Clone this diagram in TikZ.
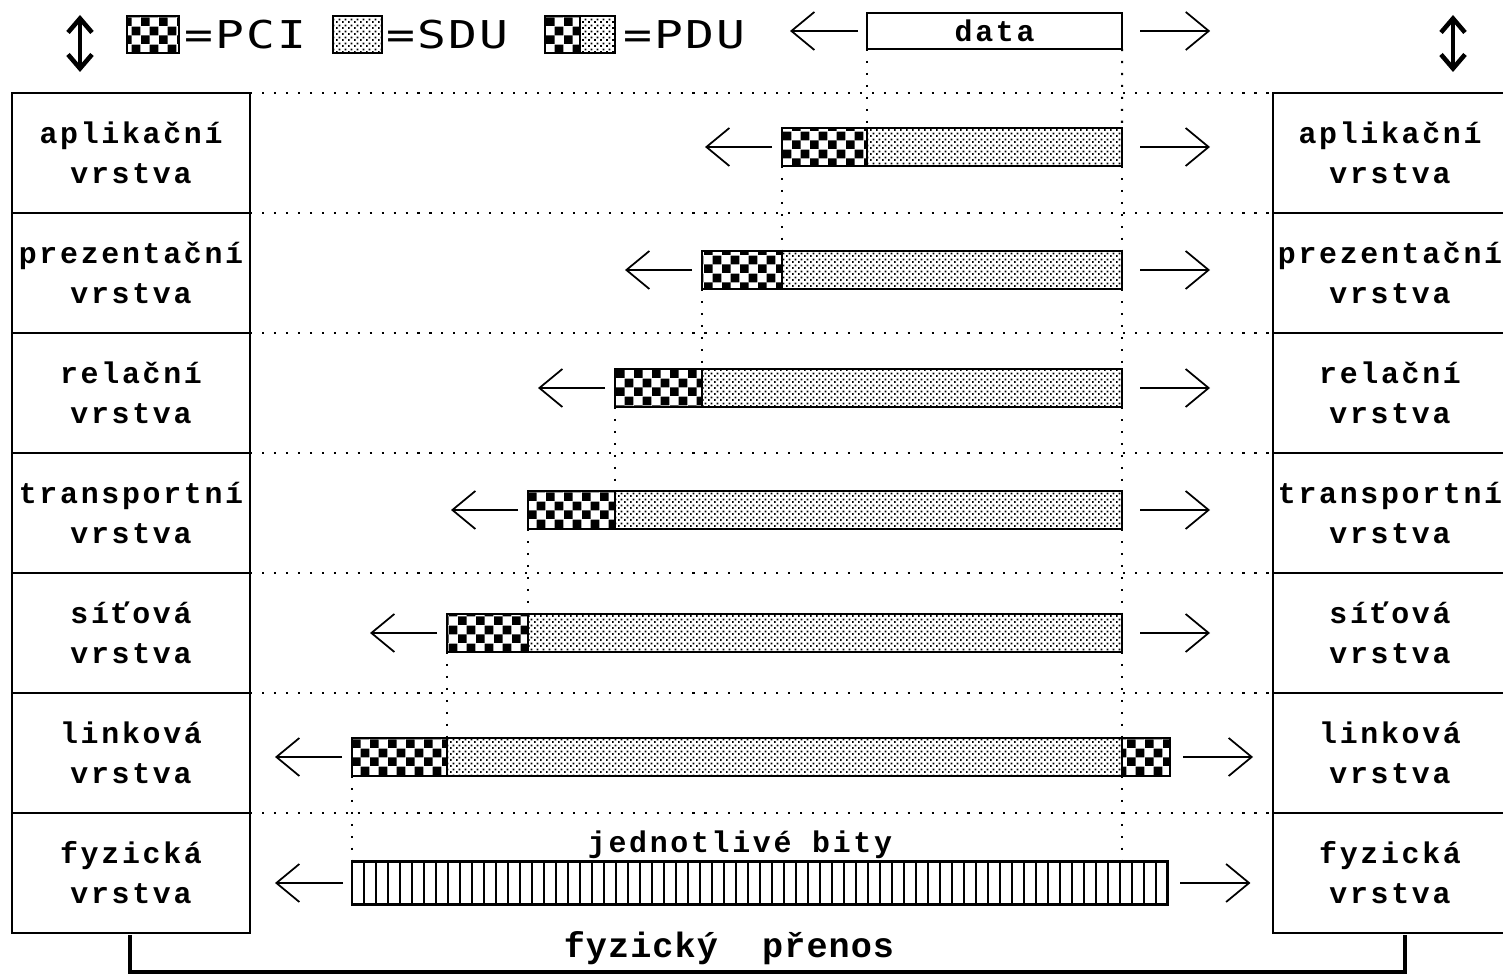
\documentclass[tikz,border=0pt]{standalone}
\usepackage{fontspec}
\usepackage{tikz}
\usetikzlibrary{arrows.meta,patterns.meta,positioning,calc}
\newfontfamily\layfont[LetterSpace=9]{Liberation Mono}
\newfontfamily\bigfont[LetterSpace=3]{Liberation Mono}
\newfontfamily\keyfont[FakeStretch=1.25,LetterSpace=5]{DejaVu Sans Mono}

\tikzdeclarepattern{
  name=pcichk, type=uncolored,
  bottom left={(0cm,0cm)}, top right={(0.176cm,0.176cm)}, tile size={(0.176cm,0.176cm)},
  code={\fill (0cm,0cm) rectangle (0.088cm,0.088cm);
        \fill (0.088cm,0.088cm) rectangle (0.176cm,0.176cm);}
}
\tikzdeclarepattern{
  name=sdudot, type=uncolored,
  bottom left={(0cm,0cm)}, top right={(0.06cm,0.06cm)}, tile size={(0.06cm,0.06cm)},
  code={\fill (0cm,0cm) rectangle (0.02cm,0.02cm);
        \fill (0.03cm,0.03cm) rectangle (0.05cm,0.05cm);}
}

\tikzset{
  layer/.style={draw,line width=0.7pt,minimum height=1.2cm,align=center,inner sep=0pt,
                outer sep=0pt,font=\layfont\bfseries\fontsize{8.5}{11.4}\selectfont},
  bar/.style={draw,line width=0.6pt,minimum height=0.38cm,inner sep=0pt,outer sep=0pt,anchor=west},
  pci/.style={bar,pattern=pcichk},              % záhlaví
  sdu/.style={bar,pattern=sdudot},              % data vyšší vrstvy
  key/.style={draw,line width=0.6pt,minimum height=0.37cm,inner sep=0pt,outer sep=0pt},
  keytxt/.style={font=\keyfont\fontsize{10.9}{13}\selectfont,inner sep=0pt,anchor=west},
  lbl/.style={font=\layfont\bfseries\fontsize{8.5}{11}\selectfont,inner sep=0pt},
  arr/.style={-{Straight Barb[length=2.3mm,width=3.8mm]},line width=0.5pt},
  dbl/.style={{Straight Barb[length=1.4mm,width=2.4mm]}-{Straight Barb[length=1.4mm,width=2.4mm]},line width=1.3pt},
  guide/.style={line width=0.6pt,dash pattern=on 0.6pt off 2.8pt},
  brace/.style={line width=1.2pt}
}

\begin{document}
\begin{tikzpicture}[x=0.01cm,y=-0.01cm,pattern color=black]
  \clip (0,0) rectangle (1503,977);

  % legenda
  \coordinate (lt) at (80,15);  \coordinate (lb) at (80,72);
  \coordinate (rt) at (1453,15); \coordinate (rb) at (1453,72);
  \draw[dbl] (lt) -- (lb);
  \draw[dbl] (rt) -- (rb);
  \node[key,pattern=pcichk,minimum width=0.52cm] (kpci) at (153,34.5) {};
  \node[keytxt,right=0.05cm of kpci] (tpci) {=PCI};
  \node[key,pattern=sdudot,minimum width=0.49cm] (ksdu) at (357.5,34.5) {};
  \node[keytxt,right=0.04cm of ksdu] (tsdu) {=SDU};
  \node[key,pattern=pcichk,minimum width=0.35cm] (kpdu) at (562.5,34.5) {};
  \node[key,pattern=sdudot,minimum width=0.35cm,right=0pt of kpdu] (kpdub) {};
  \node[keytxt,right=0.08cm of kpdub] (tpdu) {=PDU};

  % data
  \node[bar,minimum width=2.55cm,minimum height=0.36cm,font=\layfont\bfseries\fontsize{8.5}{10}\selectfont]
    (data) at (867,31) {data};
  \draw[arr] ($(data.west)+(-9,0)$) -- ++(-68,0);
  \draw[arr] ($(data.east)+(18,0)$) -- ++(70,0);

  % vrstvy
  \foreach \i/\name in {1/aplikační,2/prezentační,3/relační,4/transportní,
                        5/síťová,6/linková,7/fyzická}{
    \node[layer,minimum width=2.38cm] (L\i) at (131,{153+120*(\i-1)}) {\name\\vrstva};
    \node[layer,minimum width=2.34cm] (R\i) at (1390,{153+120*(\i-1)}) {\name\\vrstva};
    \draw[guide] (L\i.north east) -- (R\i.north west);
  }

  % PDU jednotlivých vrstev
  \foreach \i/\y/\a/\b in {1/147/782/867,2/270/702/782,3/388/615/702,
                           4/510/528/615,5/633/447/528,6/757/352/447}{
    \node[pci,minimum width={(\b-\a)*0.01cm}] (h\i) at (\a,\y) {};
    \node[sdu,minimum width={(1122-\b)*0.01cm}] (s\i) at (\b,\y) {};
    \draw[arr] ($(h\i.west)+(-10,0)$) -- ++(-67,0);
  }
  \foreach \i in {1,...,5}
    \draw[arr] ($(s\i.east)+(18,0)$) -- ++(70,0);
  \node[pci,minimum width=0.48cm] (t6) at (1122,757) {};
  \draw[arr] ($(t6.east)+(13,0)$) -- ++(70,0);

  % bity
  \node[bar,minimum width=8.15cm,minimum height=0.43cm] (bits) at (352,883) {};
  \foreach \k in {1,...,67}
    \draw[line width=0.6pt] ($(bits.south west)+(12*\k,0)$) -- ($(bits.north west)+(12*\k,0)$);
  \draw[arr] ($(bits.west)+(-9,0)$) -- ++(-68,0);
  \draw[arr] ($(bits.east)+(13,0)$) -- ++(70,0);
  \node[lbl] (bitlbl) at (740,845) {jednotlivé bity};

  % pomocné svislice
  \draw[guide] (data.south west) -- (s1.north west);
  \draw[guide] (data.south east) -- (s1.north east);
  \foreach \i/\j in {1/2,2/3,3/4,4/5,5/6}{
    \draw[guide] (h\i.south west) -- (h\j.north east);
    \draw[guide] (s\i.south east) -- (s\j.north east);
  }
  \draw[guide] (h6.south west) -- (h6.south west |- bits.north);
  \draw[guide] (s6.south east) -- (s6.south east |- bits.north);

  % fyzický přenos
  \coordinate (bl) at (130,935); \coordinate (br) at (1405,935);
  \draw[brace] (bl) -- ++(0,37) -| (br);
  \node[font=\bigfont\bfseries\fontsize{10}{12}\selectfont,inner sep=0pt] (prenos) at (729,948) {fyzický\ \ přenos};
\end{tikzpicture}
\end{document}
